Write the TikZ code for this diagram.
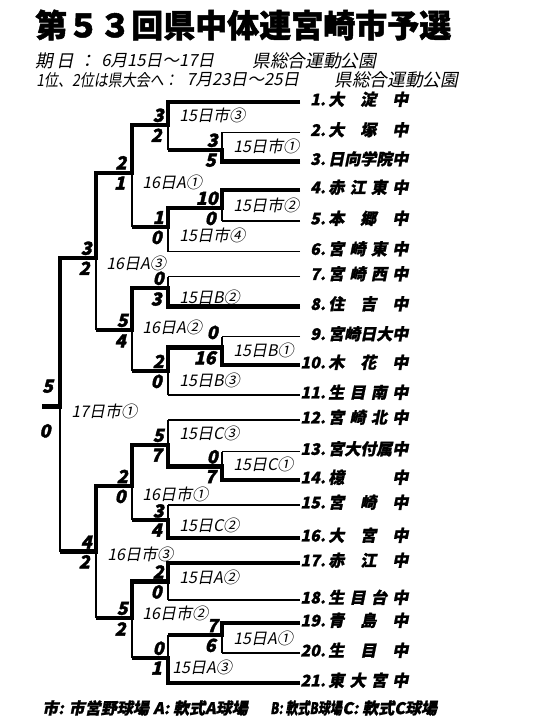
\documentclass[tikz,border=0pt]{standalone}
\usepackage{fontspec}
\usepackage{graphicx}
\usetikzlibrary{positioning}
\newfontfamily\jpslant[FakeSlant=0.2]{Noto Sans CJK JP}
\newfontfamily\jpheavy[FakeBold=1.5]{Noto Sans CJK JP}
\newfontfamily\jpheavyslant[FakeSlant=0.2,FakeBold=1.2]{Noto Sans CJK JP}
\newfontfamily\jpscore[FakeSlant=0.22,FakeBold=2]{Noto Sans CJK JP}
\newcommand{\teamentry}[2]{\makebox[12pt][r]{#1}\hspace{2pt}\makebox[60pt][s]{#2}}

\begin{document}
\begin{tikzpicture}[x=0.75pt, y=-0.75pt,
    thin line/.style={line width=0.8pt},
    win line/.style={line width=3.6pt},
    score/.style={inner sep=0pt, font=\jpscore\bfseries\fontsize{13.5}{13.5}\selectfont},
    game/.style={anchor=west, inner sep=0pt, font=\jpslant\fontsize{12}{12}\selectfont},
    team/.style={inner sep=0pt, yshift=2pt, font=\jpheavyslant\bfseries\fontsize{12}{12}\selectfont},
    header/.style={anchor=west, inner sep=0pt, font=\jpslant\fontsize{13.3}{14}\selectfont},
    legend/.style={anchor=west, inner sep=0pt, font=\jpheavyslant\bfseries\fontsize{12}{12}\selectfont}]
    \useasboundingbox (0,0) rectangle (540,720);

    \node[anchor=west, inner sep=0pt, font=\jpheavy\bfseries\fontsize{24}{24}\selectfont] (headline) at (35,25) {第５３回県中体連宮崎市予選};
    \node[header] (dayA) at (35,61) {期\hspace{3pt}日\hspace{3pt}：};
    \node[header, font=\jpslant\fontsize{12.5}{13}\selectfont] (dayB) at (101,61) {6月15日～17日};
    \node[header] (dayC) at (252,61) {県総合運動公園};
    \node[header, font=\jpslant\fontsize{12.5}{13}\selectfont] (nextA) at (36,80) {\scalebox{0.84}[1]{1位、2位は県大会へ：}};
    \node[header, font=\jpslant\fontsize{12.5}{13}\selectfont] (nextB) at (186,80) {7月23日～25日};
    \node[header] (nextC) at (334,80) {県総合運動公園};

    \coordinate (e1) at (300,102);
    \coordinate (e2) at (300,132.5);
    \coordinate (e3) at (300,161.5);
    \coordinate (e4) at (300,190);
    \coordinate (e5) at (300,221);
    \coordinate (e6) at (300,251.5);
    \coordinate (e7) at (300,276.5);
    \coordinate (e8) at (300,306.5);
    \coordinate (e9) at (300,336.5);
    \coordinate (e10) at (300,365);
    \coordinate (e11) at (300,395);
    \coordinate (e12) at (300,420);
    \coordinate (e13) at (300,451.5);
    \coordinate (e14) at (300,480);
    \coordinate (e15) at (300,505);
    \coordinate (e16) at (300,538);
    \coordinate (e17) at (300,563);
    \coordinate (e18) at (300,600);
    \coordinate (e19) at (300,623);
    \coordinate (e20) at (300,653);
    \coordinate (e21) at (300,683);

    \coordinate (m2) at (222,150);
    \coordinate (m4) at (222,208);
    \coordinate (m9) at (222,347.5);
    \coordinate (m13) at (222,466.5);
    \coordinate (m19) at (222,635);
    \coordinate (m1) at (168,125);
    \coordinate (m6) at (168,227);
    \coordinate (m7) at (168,288);
    \coordinate (m11) at (168,371);
    \coordinate (m12) at (168,445);
    \coordinate (m15) at (168,520);
    \coordinate (m17) at (168,581.5);
    \coordinate (m21) at (168,658);
    \coordinate (mA) at (132,173);
    \coordinate (mB) at (132,330);
    \coordinate (mC) at (132,486);
    \coordinate (mD) at (132,618);
    \coordinate (mE) at (96,258);
    \coordinate (mF) at (96,551.5);
    \coordinate (mG) at (60,406.5);
    \coordinate (fin) at (42,406.5);

    \draw[thin line] (e1) -- (e1 -| m1) (e2) -- (e2 -| m2) (e3) -- (e3 -| m2) (e4) -- (e4 -| m4)
        (e5) -- (e5 -| m4) (e6) -- (e6 -| m6) (e7) -- (e7 -| m7) (e8) -- (e8 -| m7)
        (e9) -- (e9 -| m9) (e10) -- (e10 -| m9) (e11) -- (e11 -| m11) (e12) -- (e12 -| m12)
        (e13) -- (e13 -| m13) (e14) -- (e14 -| m13) (e15) -- (e15 -| m15) (e16) -- (e16 -| m15)
        (e17) -- (e17 -| m17) (e18) -- (e18 -| m17) (e19) -- (e19 -| m19) (e20) -- (e20 -| m19)
        (e21) -- (e21 -| m21);
    \draw[thin line] (m2 |- e2) -- (m2 |- e3) (m4 |- e4) -- (m4 |- e5) (m9 |- e9) -- (m9 |- e10)
        (m13 |- e13) -- (m13 |- e14) (m19 |- e19) -- (m19 |- e20);
    \draw[thin line] (m1 |- e1) -- (m1 |- m2) (m6 |- m4) -- (m6 |- e6) (m7 |- e7) -- (m7 |- e8)
        (m11 |- m9) -- (m11 |- e11) (m12 |- e12) -- (m12 |- m13) (m15 |- e15) -- (m15 |- e16)
        (m17 |- e17) -- (m17 |- e18) (m21 |- m19) -- (m21 |- e21);
    \draw[thin line] (mA |- m1) -- (mA |- m6) (mB |- m7) -- (mB |- m11) (mC |- m12) -- (mC |- m15)
        (mD |- m17) -- (mD |- m21) (mE |- mA) -- (mE |- mB) (mF |- mC) -- (mF |- mD)
        (mG |- mE) -- (mG |- mF);

    \draw[win line] (e1) -| (m1) -| (mA) -| (mE) -| (mG) -- (fin);
    \draw[win line] (e3) -| (m2) -- (m2 -| m1);
    \draw[win line] (e4) -| (m4) -| (m6) -- (m6 -| mA);
    \draw[win line] (e8) -| (m7) -| (mB) -- (mB -| mE);
    \draw[win line] (e10) -| (m9) -| (m11) -- (m11 -| mB);
    \draw[win line] (e14) -| (m13) -| (m12) -| (mC) -| (mF) -- (mF -| mG);
    \draw[win line] (e16) -| (m15) -- (m15 -| mC);
    \draw[win line] (e17) -| (m17) -| (mD) -- (mD -| mF);
    \draw[win line] (e19) -| (m19) -- (m19 -| m21);
    \draw[win line] (e21) -| (m21) -- (m21 -| mD);

    \node[score, above left=2pt and 3pt of m2] (s2t) {3};
    \node[score, below left=2.5pt and 4.5pt of m2] (s2b) {5};
    \node[score, above left=2pt and 3pt of m4] (s4t) {10};
    \node[score, below left=2.5pt and 4.5pt of m4] (s4b) {0};
    \node[score, above left=6pt and 3pt of m9] (s9t) {0};
    \node[score, below left=2.5pt and 4.5pt of m9] (s9b) {16};
    \node[score, above left=2pt and 3pt of m13] (s13t) {0};
    \node[score, below left=2.5pt and 4.5pt of m13] (s13b) {7};
    \node[score, above left=2pt and 3pt of m19] (s19t) {7};
    \node[score, below left=2.5pt and 4.5pt of m19] (s19b) {6};
    \node[score, above left=2pt and 3pt of m1] (s1t) {3};
    \node[score, below left=2.5pt and 4.5pt of m1] (s1b) {2};
    \node[score, above left=2pt and 3pt of m6] (s6t) {1};
    \node[score, below left=2.5pt and 4.5pt of m6] (s6b) {0};
    \node[score, above left=2pt and 3pt of m7] (s7t) {0};
    \node[score, below left=3pt and 4.5pt of m7] (s7b) {3};
    \node[score, above left=2pt and 3pt of m11] (s11t) {2};
    \node[score, below left=2.5pt and 4.5pt of m11] (s11b) {0};
    \node[score, above left=2pt and 3pt of m12] (s12t) {5};
    \node[score, below left=2.5pt and 4.5pt of m12] (s12b) {7};
    \node[score, above left=1.5pt and 3pt of m15] (s15t) {3};
    \node[score, below left=2.5pt and 4.5pt of m15] (s15b) {4};
    \node[score, above left=2pt and 3pt of m17] (s17t) {2};
    \node[score, below left=2.5pt and 4.5pt of m17] (s17b) {0};
    \node[score, above left=2pt and 3pt of m21] (s21t) {0};
    \node[score, below left=2.5pt and 4.5pt of m21] (s21b) {1};
    \node[score, above left=2.5pt and 4pt of mA] (sAt) {2};
    \node[score, below left=2.5pt and 5pt of mA] (sAb) {1};
    \node[score, above left=2pt and 3pt of mB] (sBt) {5};
    \node[score, below left=3pt and 4.5pt of mB] (sBb) {4};
    \node[score, above left=2pt and 3pt of mC] (sCt) {2};
    \node[score, below left=2.5pt and 4.5pt of mC] (sCb) {0};
    \node[score, above left=2pt and 3pt of mD] (sDt) {5};
    \node[score, below left=3pt and 4.5pt of mD] (sDb) {2};
    \node[score, above left=2pt and 3pt of mE] (sEt) {3};
    \node[score, below left=2.5pt and 4.5pt of mE] (sEb) {2};
    \node[score, above left=2pt and 3pt of mF] (sFt) {4};
    \node[score, below left=2.5pt and 4.5pt of mF] (sFb) {2};
    \node[score, above left=10pt and 5pt of mG] (sGt) {5};
    \node[score, below left=13pt and 7pt of mG] (sGb) {0};

    \node[game] (g2) at (233,146) {15日市①};
    \node[game] (g4) at (233,205) {15日市②};
    \node[game] (g9) at (233,350) {15日B①};
    \node[game] (g13) at (233,464) {15日C①};
    \node[game] (g19) at (233,638) {15日A①};
    \node[game] (g1) at (179,115) {15日市③};
    \node[game] (g6) at (179,235) {15日市④};
    \node[game] (g7) at (179,297) {15日B②};
    \node[game] (g11) at (179,380) {15日B③};
    \node[game] (g12) at (179,433) {15日C③};
    \node[game] (g15) at (179,525) {15日C②};
    \node[game] (g17) at (179,577) {15日A②};
    \node[game] (g21) at (172,667) {15日A③};
    \node[game] (gA) at (142,182) {16日A①};
    \node[game] (gB) at (142,327) {16日A②};
    \node[game] (gC) at (142,494) {16日市①};
    \node[game] (gD) at (142,613) {16日市②};
    \node[game] (gE) at (106,263) {16日A③};
    \node[game] (gF) at (107,554) {16日市③};
    \node[game] (gG) at (71,411) {17日市①};

    \node[team, right=7pt of e1] (n1) {\teamentry{1.}{大 淀 中}};
    \node[team, right=7pt of e2] (n2) {\teamentry{2.}{大 塚 中}};
    \node[team, right=7pt of e3] (n3) {\teamentry{3.}{日向学院中}};
    \node[team, right=7pt of e4] (n4) {\teamentry{4.}{赤 江 東 中}};
    \node[team, right=7pt of e5] (n5) {\teamentry{5.}{本 郷 中}};
    \node[team, right=7pt of e6] (n6) {\teamentry{6.}{宮 崎 東 中}};
    \node[team, right=7pt of e7] (n7) {\teamentry{7.}{宮 崎 西 中}};
    \node[team, right=7pt of e8] (n8) {\teamentry{8.}{住 吉 中}};
    \node[team, right=7pt of e9] (n9) {\teamentry{9.}{宮崎日大中}};
    \node[team, right=7pt of e10] (n10) {\teamentry{10.}{木 花 中}};
    \node[team, right=7pt of e11] (n11) {\teamentry{11.}{生 目 南 中}};
    \node[team, right=7pt of e12] (n12) {\teamentry{12.}{宮 崎 北 中}};
    \node[team, right=7pt of e13] (n13) {\teamentry{13.}{宮大付属中}};
    \node[team, right=7pt of e14] (n14) {\teamentry{14.}{檍 中}};
    \node[team, right=7pt of e15] (n15) {\teamentry{15.}{宮 崎 中}};
    \node[team, right=7pt of e16] (n16) {\teamentry{16.}{大 宮 中}};
    \node[team, right=7pt of e17] (n17) {\teamentry{17.}{赤 江 中}};
    \node[team, right=7pt of e18] (n18) {\teamentry{18.}{生 目 台 中}};
    \node[team, right=7pt of e19] (n19) {\teamentry{19.}{青 島 中}};
    \node[team, right=7pt of e20] (n20) {\teamentry{20.}{生 目 中}};
    \node[team, right=7pt of e21] (n21) {\teamentry{21.}{東 大 宮 中}};

    \node[legend] (keyS) at (42,708) {市: 市営野球場};
    \node[legend] (keyA) at (153,708) {A: 軟式A球場};
    \node[legend] (keyB) at (270,708) {\scalebox{0.75}[1]{B: 軟式B球場}};
    \node[legend] (keyC) at (342,708) {C: 軟式C球場};
\end{tikzpicture}
\end{document}
